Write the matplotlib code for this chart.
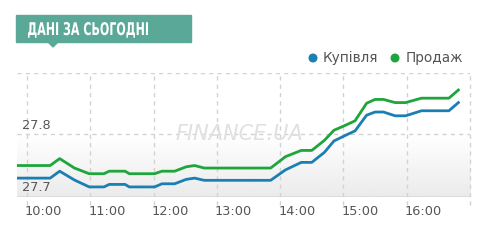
import numpy as np
import matplotlib
matplotlib.use("Agg")
import matplotlib.pyplot as plt
from matplotlib.patches import Rectangle, Polygon, PathPatch
from matplotlib.textpath import TextPath
from matplotlib.font_manager import FontProperties
from matplotlib.transforms import blended_transform_factory, Affine2D, ScaledTranslation

# readings through the day (HH:MM)
times = ["09:51", "10:22", "10:31", "10:45", "10:59", "11:13", "11:18", "11:33",
         "11:37", "12:01", "12:08", "12:20", "12:31", "12:39", "12:48", "13:51",
         "14:05", "14:20", "14:30", "14:42", "14:51", "15:02", "15:11", "15:22",
         "15:30", "15:38", "15:49", "15:59", "16:14", "16:40", "16:49"]
buy = [27.730, 27.730, 27.741, 27.727, 27.716, 27.716, 27.720, 27.720,
       27.716, 27.716, 27.721, 27.721, 27.728, 27.730, 27.7265, 27.7265,
       27.743, 27.755, 27.755, 27.771, 27.789, 27.798, 27.805, 27.830,
       27.835, 27.835, 27.829, 27.829, 27.837, 27.837, 27.850]
sell = [27.750, 27.750, 27.761, 27.746, 27.737, 27.737, 27.741, 27.741,
        27.737, 27.737, 27.741, 27.741, 27.748, 27.750, 27.746, 27.746,
        27.764, 27.774, 27.774, 27.790, 27.806, 27.814, 27.821, 27.849,
        27.855, 27.855, 27.850, 27.850, 27.857, 27.857, 27.870]
hour_ticks = [10, 11, 12, 13, 14, 15, 16]
hour_labels = ["10:00", "11:00", "12:00", "13:00", "14:00", "15:00", "16:00"]
y_labels = [27.7, 27.8]
title = "ДАНІ ЗА СЬОГОДНІ"

BLUE = "#1a7fb2"
GREEN = "#1ea53c"
TEAL = "#5aa898"
GRID = "#d2d2d2"
TXT = "#555555"

t = np.array([int(s[:2]) + int(s[3:]) / 60 for s in times])

fig = plt.figure(figsize=(4.98, 2.41), dpi=100)
ax = fig.add_axes([17 / 498, 1 - 197 / 241, 453 / 498, 124 / 241])
x0, x1 = 10 - 9.45 / 60, 17.0
y0, y1 = 27.7, 27.897
ax.set_xlim(x0, x1)
ax.set_ylim(y0, y1)
for s in ax.spines.values():
    s.set_visible(False)

# grey gradient band under the 27.8 line (white at top)
grad = np.linspace(1.0, 0.92, 100).reshape(-1, 1)
ax.imshow(grad, cmap="gray", vmin=0, vmax=1, aspect="auto",
          extent=[x0, x1, y0, 27.8], zorder=0)

# grid
ax.axhline(y1, color=GRID, lw=1, ls=(0, (3, 3)), zorder=1)
ax.axhline(27.8, color=GRID, lw=1, ls=(0, (3, 3)), zorder=1)
for h in hour_ticks + [17]:
    ax.axvline(h, ymin=-0.065, ymax=1, color=GRID, lw=1, ls=(0, (3, 3)),
               clip_on=False, zorder=1)
ax.axhline(y0, color="#d8d8d8", lw=1.2, zorder=2)

# watermark
ax.text(13.35, 27.8, "FINANCE.UA", fontsize=15, style="italic", color="#e0e0e0",
        ha="center", va="center", zorder=1)

ax.plot(t, sell, color=GREEN, lw=2, solid_joinstyle="round", zorder=3)
ax.plot(t, buy, color=BLUE, lw=2, solid_joinstyle="round", zorder=3)

ax.set_xticks(hour_ticks)
ax.set_xticklabels(hour_labels, ha="left", fontsize=9.3, color=TXT)
ax.tick_params(axis="x", length=0, pad=6)
shift = ScaledTranslation(-2 / 100, 0, fig.dpi_scale_trans)
for lab in ax.get_xticklabels():
    lab.set_transform(lab.get_transform() + shift)
ax.set_yticks([])

tr = blended_transform_factory(ax.transAxes, ax.transData)
for v in y_labels:
    ax.text(0.012, v + 0.004, f"{v:.1f}", transform=tr, fontsize=9.3,
            color=TXT, ha="left", va="bottom")

# header + legend in pixel coordinates
ov = fig.add_axes([0, 0, 1, 1], zorder=5)
ov.set_xlim(0, 498)
ov.set_ylim(241, 0)
ov.axis("off")
ov.patch.set_alpha(0)
ov.add_patch(Rectangle((16, 15), 175, 27, color=TEAL))
ov.add_patch(Polygon([[48, 42], [58, 42], [53, 47]], color=TEAL))

# condensed bold header text: squeeze a bold text path horizontally
tp = TextPath((0, 0), title, size=17.5,
              prop=FontProperties(family="DejaVu Sans", weight="bold"))
bb = tp.get_extents()
sx = 120 / bb.width
tp_tr = Affine2D().scale(sx, -1).translate(28 - bb.x0 * sx, 35) + ov.transData
ov.add_patch(PathPatch(tp, facecolor="white", edgecolor="none", transform=tp_tr))

ov.scatter([313, 395], [58, 58], s=30, color=[BLUE, GREEN])
ov.text(323, 58, "Купівля", fontsize=9.8, color=TXT, va="center", ha="left")
ov.text(406, 58, "Продаж", fontsize=9.8, color=TXT, va="center", ha="left")

fig.savefig("out.png", dpi=100)
